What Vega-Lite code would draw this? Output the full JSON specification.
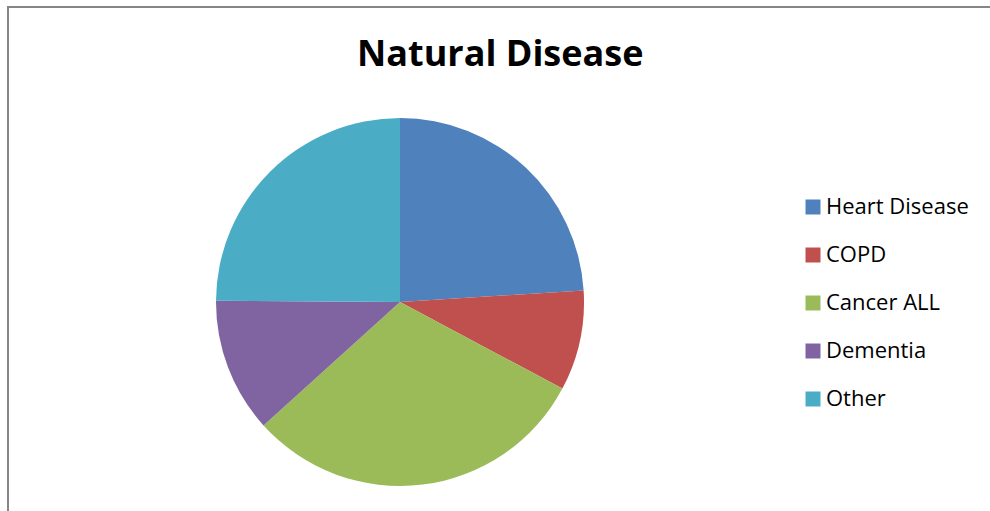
{
  "$schema": "https://vega.github.io/schema/vega-lite/v6.json",
  "width": 985,
  "height": 507,
  "autosize": {"type": "none"},
  "padding": {"left": 8, "top": 7, "right": -3, "bottom": -3},
  "background": "white",
  "view": {"stroke": "#868686", "strokeWidth": 2},
  "title": {
    "text": "Natural Disease",
    "font": "Open Sans",
    "fontSize": 36,
    "fontWeight": "bold",
    "color": "#000000",
    "anchor": "start",
    "baseline": "alphabetic",
    "offset": 0,
    "dx": 349,
    "dy": 95
  },
  "data": {
    "values": [
      {"cause": "Heart Disease", "share": 24.0, "rank": 1},
      {"cause": "COPD", "share": 8.8, "rank": 2},
      {"cause": "Cancer ALL", "share": 30.5, "rank": 3},
      {"cause": "Dementia", "share": 11.8, "rank": 4},
      {"cause": "Other", "share": 24.9, "rank": 5}
    ]
  },
  "mark": {"type": "arc", "outerRadius": 184, "x": 392, "y": 295},
  "encoding": {
    "theta": {"field": "share", "type": "quantitative", "stack": true},
    "color": {
      "field": "cause",
      "type": "nominal",
      "sort": ["Heart Disease", "COPD", "Cancer ALL", "Dementia", "Other"],
      "scale": {
        "domain": ["Heart Disease", "COPD", "Cancer ALL", "Dementia", "Other"],
        "range": ["#4F81BD", "#C0504D", "#9BBB59", "#8064A2", "#4BACC6"]
      },
      "legend": {
        "title": null,
        "orient": "none",
        "legendX": 794,
        "legendY": 189,
        "padding": 0,
        "symbolType": "square",
        "symbolSize": 225,
        "symbolStrokeWidth": 0,
        "symbolOpacity": 1,
        "labelFont": "Open Sans",
        "labelFontSize": 22,
        "labelColor": "#000000",
        "labelOffset": 2,
        "rowPadding": 26
      }
    },
    "order": {"field": "rank", "type": "quantitative", "sort": "ascending"}
  }
}
